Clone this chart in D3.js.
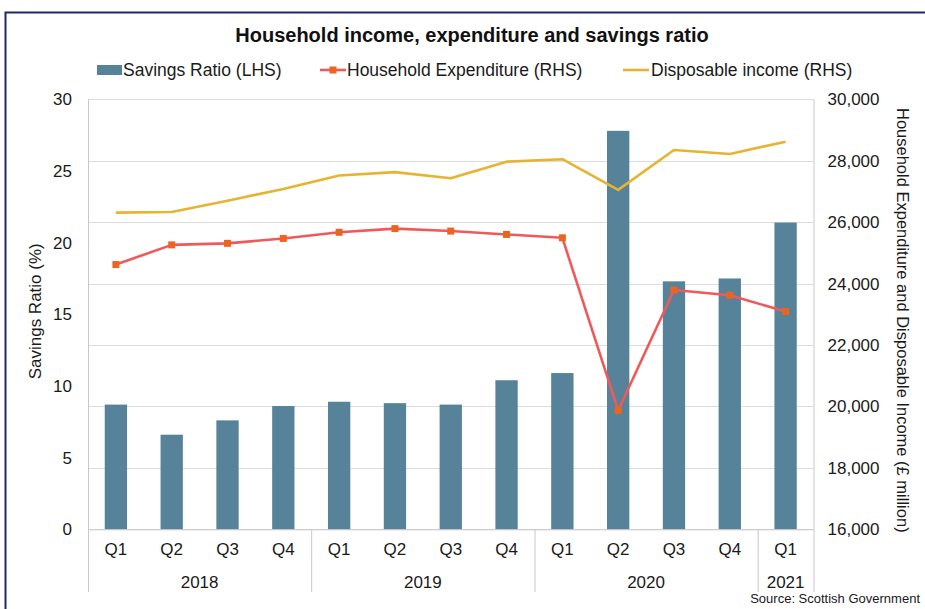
<!DOCTYPE html>
<html>
<head>
<meta charset="utf-8">
<script src="https://cdn.jsdelivr.net/npm/d3@7"></script>
<style>
  html, body { margin: 0; padding: 0; background: #fff; }
  svg { display: block; font-family: "Liberation Sans", Arial, sans-serif; }
</style>
</head>
<body>
<svg id="chart" width="925" height="609"></svg>
<script>
// Quarterly categories, grouped by year
const quarters = ["Q1","Q2","Q3","Q4","Q1","Q2","Q3","Q4","Q1","Q2","Q3","Q4","Q1"];
const years = ["2018","2018","2018","2018","2019","2019","2019","2019","2020","2020","2020","2020","2021"];

// Savings ratio (%), left axis
const savingsRatio = [8.7, 6.6, 7.6, 8.6, 8.9, 8.8, 8.7, 10.4, 10.9, 27.8, 17.3, 17.5, 21.4];
// Household expenditure (£ million), right axis
const expenditure = [24620, 25260, 25310, 25470, 25670, 25790, 25710, 25600, 25490, 19870, 23790, 23620, 23090];
// Disposable income (£ million), right axis
const disposableIncome = [26310, 26330, 26700, 27080, 27520, 27630, 27430, 27970, 28050, 27050, 28350, 28220, 28620];

const leftTicks = [0, 5, 10, 15, 20, 25, 30];
const rightTicks = [16000, 18000, 20000, 22000, 24000, 26000, 28000, 30000];

const colors = { bar: "#56839a", exp: "#f0595a", expMarker: "#ec6420", inc: "#e6b430", grid: "#dcdcdc", axis: "#c8c8c8", text: "#1a1a1a" };
const font = "Liberation Sans, Arial, sans-serif";
const tickSize = 17;

const svg = d3.select("#chart");
const plot = { left: 88, right: 813.5, top: 99.3, bottom: 529.3 };

// Outer frame
svg.append("rect")
  .attr("x", 5.5).attr("y", 12.5).attr("width", 960).attr("height", 640)
  .attr("fill", "none").attr("stroke", "#1b2a63").attr("stroke-width", 2);

const keys = quarters.map((q, i) => years[i] + " " + q);

const x = d3.scaleBand().domain(keys).range([plot.left, plot.right])
  .paddingInner(0.6).paddingOuter(0.3);
const yL = d3.scaleLinear().domain([0, 30]).range([plot.bottom, plot.top]);
const yR = d3.scaleLinear().domain([16000, 30000]).range([plot.bottom, plot.top]);

// Gridlines follow the right-hand axis
svg.append("g").selectAll("line").data(rightTicks).join("line")
  .attr("x1", plot.left).attr("x2", plot.right)
  .attr("y1", d => Math.round(yR(d)) + 0.5).attr("y2", d => Math.round(yR(d)) + 0.5)
  .attr("stroke", colors.grid).attr("stroke-width", 1);

// Bars
svg.append("g").selectAll("rect").data(savingsRatio).join("rect")
  .attr("x", (d, i) => x(keys[i]))
  .attr("width", x.bandwidth())
  .attr("y", d => yL(d))
  .attr("height", d => yL(0) - yL(d))
  .attr("fill", colors.bar);

// Vertical plot edges
[plot.left, plot.right].forEach(px => {
  svg.append("line").attr("x1", px + 0.5).attr("x2", px + 0.5)
    .attr("y1", plot.top).attr("y2", plot.bottom)
    .attr("stroke", colors.axis);
});

const cx = i => x(keys[i]) + x.bandwidth() / 2;

// Disposable income line
svg.append("path").datum(disposableIncome)
  .attr("fill", "none").attr("stroke", colors.inc).attr("stroke-width", 2.6)
  .attr("stroke-linejoin", "round")
  .attr("d", d3.line().x((d, i) => cx(i)).y(d => yR(d)));

// Expenditure line with square markers
svg.append("path").datum(expenditure)
  .attr("fill", "none").attr("stroke", colors.exp).attr("stroke-width", 2.6)
  .attr("stroke-linejoin", "round")
  .attr("d", d3.line().x((d, i) => cx(i)).y(d => yR(d)));
svg.append("g").selectAll("rect").data(expenditure).join("rect")
  .attr("x", (d, i) => cx(i) - 3.5).attr("y", d => yR(d) - 3.5)
  .attr("width", 7).attr("height", 7).attr("fill", colors.expMarker);

// Left axis
const gL = svg.append("g").attr("transform", `translate(${plot.left},0)`)
  .call(d3.axisLeft(yL).tickValues(leftTicks).tickSize(0).tickPadding(16));
gL.select(".domain").remove();
gL.selectAll("text").attr("font-size", tickSize).attr("fill", colors.text).attr("font-family", font);

// Right axis
const gR = svg.append("g").attr("transform", `translate(${plot.right},0)`)
  .call(d3.axisRight(yR).tickValues(rightTicks).tickSize(0).tickPadding(14).tickFormat(d3.format(",")));
gR.select(".domain").remove();
gR.selectAll("text").attr("font-size", tickSize).attr("fill", colors.text).attr("font-family", font);

// Category axis: quarter labels
const gX = svg.append("g").attr("transform", `translate(0,${plot.bottom})`)
  .call(d3.axisBottom(x).tickSize(0).tickPadding(14).tickFormat((d, i) => quarters[i]));
gX.select(".domain").attr("stroke", colors.axis).attr("d", `M${plot.left},0.5H${plot.right}`);
gX.selectAll("text").attr("font-size", tickSize).attr("fill", colors.text).attr("font-family", font);

// Year groups: separators and labels
const yearGroups = d3.groups(keys.map((k, i) => ({ k, i, year: years[i] })), d => d.year);
const half = (x.step() - x.bandwidth()) / 2;
const bounds = [];
yearGroups.forEach(([year, items]) => {
  const x0 = x(items[0].k) - half;
  const x1 = x(items[items.length - 1].k) + x.bandwidth() + half;
  bounds.push(x0, x1);
  svg.append("text")
    .attr("x", (x0 + x1) / 2).attr("y", 582).attr("dy", "0.35em")
    .attr("text-anchor", "middle").attr("font-size", tickSize).attr("fill", colors.text)
    .text(year);
});
svg.append("g").selectAll("line").data(Array.from(new Set(bounds.map(b => Math.round(b * 10) / 10)))).join("line")
  .attr("x1", d => d + 0.5).attr("x2", d => d + 0.5)
  .attr("y1", plot.bottom).attr("y2", 592)
  .attr("stroke", colors.axis);

// Axis titles
svg.append("text")
  .attr("transform", `translate(35,${(plot.top + plot.bottom) / 2 - 3}) rotate(-90)`)
  .attr("text-anchor", "middle").attr("dy", "0.35em")
  .attr("font-size", 17).attr("fill", colors.text)
  .text("Savings Ratio (%)");
svg.append("text")
  .attr("transform", `translate(903,${(plot.top + plot.bottom) / 2 + 6}) rotate(90)`)
  .attr("text-anchor", "middle").attr("dy", "0.35em")
  .attr("font-size", 16.5).attr("fill", colors.text)
  .text("Household Expenditure and Disposable Income (£ million)");

// Title
svg.append("text")
  .attr("x", 472).attr("y", 35).attr("dy", "0.35em")
  .attr("text-anchor", "middle").attr("font-size", 20).attr("font-weight", "bold").attr("fill", "#111")
  .text("Household income, expenditure and savings ratio");

// Legend
const legendSize = 17.5;
const legend = svg.append("g");
legend.append("rect").attr("x", 97).attr("y", 65).attr("width", 25).attr("height", 10).attr("fill", colors.bar);
legend.append("text").attr("x", 123).attr("y", 70).attr("dy", "0.35em").attr("font-size", legendSize).attr("fill", colors.text).text("Savings Ratio (LHS)");
legend.append("line").attr("x1", 320).attr("x2", 346).attr("y1", 70).attr("y2", 70).attr("stroke", colors.exp).attr("stroke-width", 2.6);
legend.append("rect").attr("x", 329.5).attr("y", 66.5).attr("width", 7).attr("height", 7).attr("fill", colors.expMarker);
legend.append("text").attr("x", 347).attr("y", 70).attr("dy", "0.35em").attr("font-size", legendSize).attr("fill", colors.text).text("Household Expenditure (RHS)");
legend.append("line").attr("x1", 623).attr("x2", 649).attr("y1", 70).attr("y2", 70).attr("stroke", colors.inc).attr("stroke-width", 2.6);
legend.append("text").attr("x", 651).attr("y", 70).attr("dy", "0.35em").attr("font-size", legendSize).attr("fill", colors.text).text("Disposable income (RHS)");

// Source note
svg.append("text").attr("x", 920).attr("y", 598).attr("dy", "0.35em")
  .attr("text-anchor", "end")
  .attr("font-size", 13).attr("fill", colors.text).text("Source: Scottish Government");
</script>
</body>
</html>
